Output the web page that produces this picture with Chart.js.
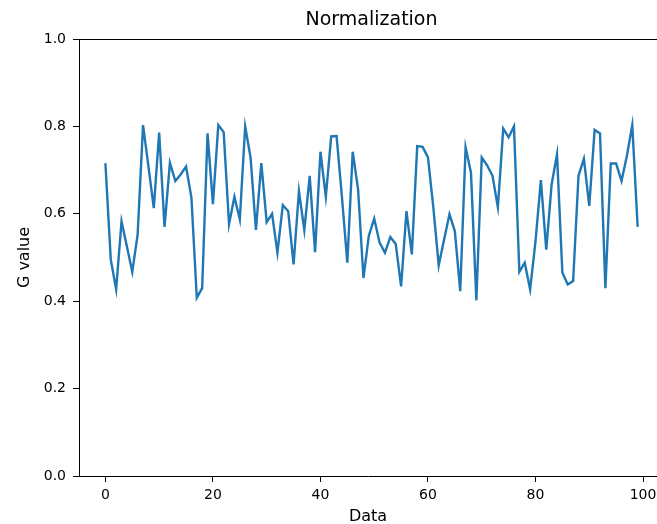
<!DOCTYPE html>
<html>
<head>
<meta charset="utf-8">
<script src="https://cdn.jsdelivr.net/npm/chart.js@4.4.1/dist/chart.umd.min.js"></script>
<style>
  html, body { margin: 0; padding: 0; background: #fff; }
  #wrap { width: 657px; height: 524px; }
</style>
</head>
<body>
<div id="wrap"><canvas id="chart"></canvas></div>
<script>
const gValues = [
  0.716, 0.495, 0.427, 0.583, 0.525, 0.467, 0.553, 0.803, 0.709, 0.613,
  0.786, 0.570, 0.717, 0.675, 0.690, 0.708, 0.637, 0.408, 0.430, 0.784,
  0.622, 0.803, 0.787, 0.576, 0.639, 0.587, 0.800, 0.729, 0.563, 0.716,
  0.581, 0.600, 0.511, 0.620, 0.606, 0.484, 0.652, 0.563, 0.687, 0.512,
  0.742, 0.639, 0.777, 0.778, 0.638, 0.488, 0.742, 0.656, 0.453, 0.550,
  0.589, 0.534, 0.511, 0.547, 0.531, 0.434, 0.606, 0.507, 0.755, 0.753,
  0.729, 0.614, 0.482, 0.541, 0.599, 0.560, 0.423, 0.752, 0.694, 0.402,
  0.729, 0.711, 0.687, 0.615, 0.795, 0.775, 0.800, 0.467, 0.488, 0.427,
  0.537, 0.677, 0.518, 0.667, 0.736, 0.465, 0.438, 0.446, 0.687, 0.726,
  0.618, 0.792, 0.784, 0.430, 0.715, 0.715, 0.675, 0.733, 0.803, 0.570
];
const xTicks = [0, 20, 40, 60, 80, 100];
const yTicks = [0, 0.2, 0.4, 0.6, 0.8, 1.0];
const titleText = 'Normalization';

const points = gValues.map((v, i) => ({ x: i, y: v }));

// top spine + title centred on the (partly cropped) axes box
const framePlugin = {
  id: 'frame',
  afterDraw(chart) {
    const a = chart.chartArea;
    const ctx = chart.ctx;
    const xs = chart.scales.x;
    ctx.save();
    ctx.strokeStyle = '#000';
    ctx.lineWidth = 1;
    ctx.beginPath();
    ctx.moveTo(a.left, a.top + 0.5);
    ctx.lineTo(a.right, a.top + 0.5);
    ctx.stroke();
    const cx = xs.getPixelForValue(49.5);
    ctx.fillStyle = '#000';
    ctx.font = '19px "DejaVu Sans"';
    ctx.textAlign = 'center';
    ctx.textBaseline = 'middle';
    ctx.fillText(titleText, cx, 20);
    ctx.restore();
  }
};

const tickFont = { family: 'DejaVu Sans', size: 14 };
const labelFont = { family: 'DejaVu Sans', size: 16, lineHeight: 1 };

new Chart(document.getElementById('chart'), {
  type: 'line',
  data: {
    datasets: [{
      data: points,
      borderColor: '#1f77b4',
      borderWidth: 2.4,
      pointRadius: 0,
      tension: 0,
      fill: false
    }]
  },
  options: {
    responsive: true,
    maintainAspectRatio: false,
    animation: false,
    layout: { padding: { left: 0, right: 0, top: 39, bottom: 0 } },
    plugins: {
      legend: { display: false },
      tooltip: { enabled: false },
      title: { display: false }
    },
    scales: {
      x: {
        type: 'linear',
        min: -4.91,
        max: 102.6,
        afterBuildTicks: s => { s.ticks = xTicks.map(v => ({ value: v })); },
        afterFit: s => { s.height = 48; s.paddingLeft = 0; s.paddingRight = 0; },
        grid: { display: true, drawOnChartArea: false, drawTicks: true, tickLength: 6, color: '#000' },
        border: { display: true, color: '#000' },
        ticks: { color: '#000', font: tickFont, padding: 5, maxRotation: 0 },
        title: { display: true, text: 'Data', color: '#000', font: labelFont, padding: { top: 0, bottom: -1 } }
      },
      y: {
        min: 0,
        max: 1,
        afterBuildTicks: s => { s.ticks = yTicks.map(v => ({ value: v })); },
        afterFit: s => { s.width = 79; s.paddingTop = 0; s.paddingBottom = 0; },
        grid: { display: true, drawOnChartArea: false, drawTicks: true, tickLength: 6, color: '#000' },
        border: { display: true, color: '#000' },
        ticks: { color: '#000', font: tickFont, padding: 7, callback: v => v.toFixed(1) },
        title: { display: true, text: 'G value', color: '#000', font: labelFont, padding: { top: 17, bottom: 0 } }
      }
    }
  },
  plugins: [framePlugin]
});
</script>
</body>
</html>
